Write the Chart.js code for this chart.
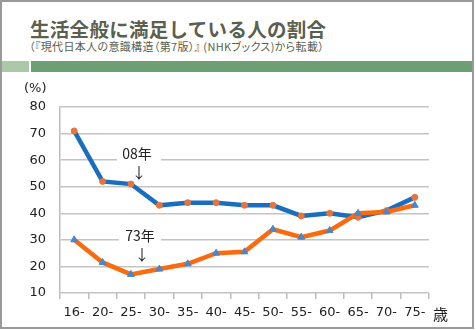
<!DOCTYPE html>
<html lang="ja">
<head>
<meta charset="utf-8">
<title>生活全般に満足している人の割合</title>
<script src="https://cdn.jsdelivr.net/npm/chart.js@4/dist/chart.umd.min.js"></script>
<style>
  html, body { margin: 0; padding: 0; background: #fff; }
  #frame {
    position: absolute; left: 0; top: 0; width: 474px; height: 329px;
    box-sizing: border-box; border: 2px solid #9a9a9a; overflow: hidden;
  }
  .title {
    position: absolute; left: 28px; top: 12px; margin: 0;
    font: bold 19.5px "Noto Sans CJK JP", sans-serif; color: #5a5f4e; letter-spacing: 0.3px;
  }
  .sub {
    position: absolute; left: 27px; top: 36px; margin: 0;
    font: 11px "Noto Sans CJK JP", sans-serif; color: #5a5f4e;
    font-feature-settings: "palt"; letter-spacing: 0.35px;
  }
  .bar-l { position: absolute; left: 0; top: 59px; width: 27px; height: 11px; background: #abc9a6; }
  .bar-r { position: absolute; left: 29px; top: 59px; width: 450px; height: 11px; background: #6e9f73; }
  #chart { position: absolute; left: 0; top: 0; }
</style>
</head>
<body>
<div id="frame">
  <p class="title">生活全般に満足している人の割合</p>
  <p class="sub">（『現代日本人の意識構造（第7版）』 (NHKブックス)から転載）</p>
  <div class="bar-l"></div>
  <div class="bar-r"></div>
</div>
<canvas id="chart" width="476" height="330"></canvas>
<script>
// age groups (歳)
const ageLabels = ['16-', '20-', '25-', '30-', '35-', '40-', '45-', '50-', '55-', '60-', '65-', '70-', '75-'];
// share satisfied with life in general (%)
const sat2008 = [71, 52, 51, 43, 44, 44, 43, 43, 39, 40, 38.5, 41, 46];
const sat1973 = [30, 21.5, 17, 19, 21, 25, 25.5, 34, 31, 33.5, 40, 40.5, 43];
const yMin = 10, yMax = 80, yStep = 10;

const tickFont = { family: "'DejaVu Sans', sans-serif", size: 13 };
const cjk = "'Noto Sans CJK JP', sans-serif";

// axis captions and the 08年 / 73年 call-outs
const notes = {
  id: 'notes',
  beforeDatasetsDraw(chart) {
    const { ctx } = chart;
    const x = chart.scales.x, y = chart.scales.y;
    const cx = x.getPixelForValue(2) + 6;
    ctx.save();
    ctx.textAlign = 'center';
    ctx.textBaseline = 'middle';
    ctx.fillStyle = '#fff';
    ctx.fillRect(cx - 20, y.getPixelForValue(60) - 2, 44, 4);
    ctx.fillRect(cx - 18, y.getPixelForValue(30) - 2, 42, 4);
    ctx.fillStyle = '#222';
    ctx.font = '14px ' + cjk;
    ctx.fillText('08年', cx, y.getPixelForValue(62.6));
    ctx.fillText('73年', cx + 3, y.getPixelForValue(31.4));
    ctx.font = '15px ' + cjk;
    ctx.fillText('↓', cx + 2, y.getPixelForValue(55.5));
    ctx.fillText('↓', cx + 5, y.getPixelForValue(24.6));
    ctx.restore();
  },
  afterDraw(chart) {
    const { ctx } = chart;
    ctx.save();
    ctx.fillStyle = '#222';
    ctx.textBaseline = 'middle';
    ctx.font = "13px 'DejaVu Sans', sans-serif";
    ctx.fillText('(%)', 24, 89);
    ctx.font = '15px ' + cjk;
    ctx.fillText('歳', 433, 314);
    ctx.restore();
  }
};

new Chart(document.getElementById('chart'), {
  type: 'line',
  data: {
    labels: ageLabels,
    datasets: [
      {
        label: '73年',
        data: sat1973,
        borderColor: '#fb6a0c',
        borderWidth: 4.5,
        pointStyle: 'triangle',
        pointRadius: 4,
        pointBackgroundColor: '#4a86cc',
        pointBorderColor: '#4a86cc',
        pointBorderWidth: 1,
        tension: 0
      },
      {
        label: '08年',
        data: sat2008,
        borderColor: '#1a6ec0',
        borderWidth: 4.5,
        pointStyle: 'circle',
        pointRadius: 3,
        pointBackgroundColor: '#e9733a',
        pointBorderColor: '#e9733a',
        pointBorderWidth: 1,
        tension: 0
      }
    ]
  },
  options: {
    responsive: false,
    animation: false,
    layout: { padding: { left: 10, right: 47, top: 107, bottom: 7 } },
    plugins: { legend: { display: false }, tooltip: { enabled: false } },
    scales: {
      x: {
        offset: true,
        grid: { offset: true, drawOnChartArea: false, drawTicks: true, tickLength: 6, color: '#bdbdbd', lineWidth: 1.5 },
        border: { display: false },
        ticks: { font: tickFont, color: '#222', padding: 6, maxRotation: 0, autoSkip: false },
        afterFit(scale) { scale.height = 30; }
      },
      y: {
        min: yMin,
        max: yMax,
        grid: { color: '#c4c4c4', lineWidth: 1.5, drawTicks: false },
        border: { color: '#bdbdbd', width: 1.5 },
        ticks: { stepSize: yStep, font: tickFont, color: '#222', padding: 14 },
        afterFit(scale) { scale.width = 50; }
      }
    }
  },
  plugins: [notes]
});
</script>
</body>
</html>
